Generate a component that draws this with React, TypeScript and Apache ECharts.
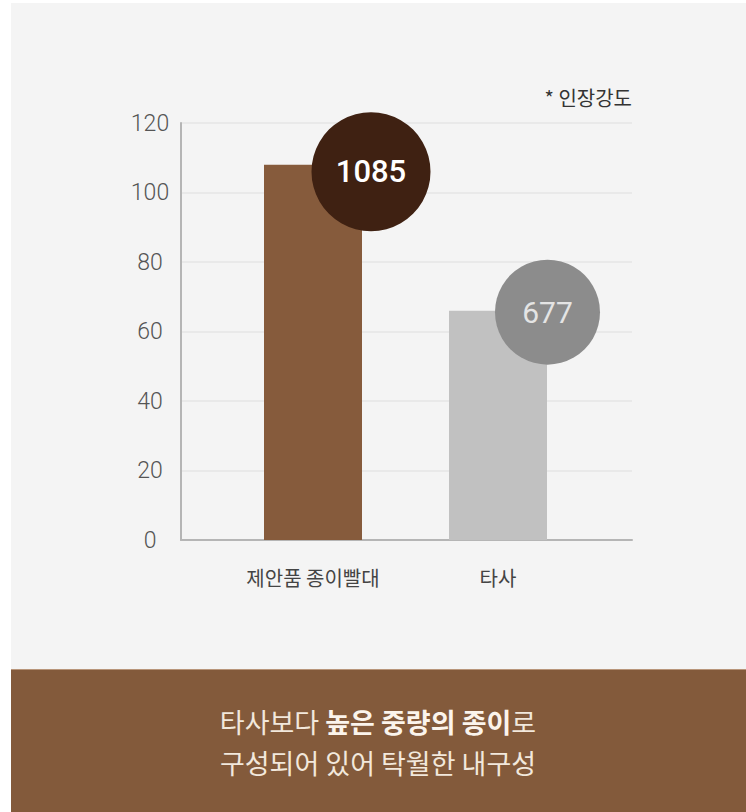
import React, { useEffect, useRef } from "react";
import * as echarts from "echarts";

const categories = ["제안품 종이빨대", "타사"];
const barValues = [108, 66];
const bubbleLabels = ["1085", "677"];
const yTicks = { min: 0, max: 120, interval: 20 };
const unitNote = "* 인장강도";
const bannerLine1 = ["타사보다 ", "높은 중량의 종이", "로"];
const bannerLine2 = "구성되어 있어 탁월한 내구성";

const FONT = "'Noto Sans CJK KR', 'Noto Sans', sans-serif";
const NUMFONT = "Roboto, 'Liberation Sans', sans-serif";

export default function App() {
  const ref = useRef<HTMLDivElement>(null);

  useEffect(() => {
    document.body.style.margin = "0";
    if (!ref.current) return;
    const chart = echarts.init(ref.current, undefined, { renderer: "svg" });

    const option: any = {
      animation: false,
      backgroundColor: "#ffffff",
      textStyle: { fontFamily: FONT },
      graphic: [
        {
          type: "rect",
          z: -10,
          shape: { x: 11, y: 3, width: 735, height: 666 },
          style: { fill: "#f4f4f4" },
        },
        {
          type: "rect",
          z: -10,
          shape: { x: 11, y: 669, width: 735, height: 143 },
          style: { fill: "#835a3b" },
        },
        {
          type: "line",
          z: -9,
          shape: { x1: 11, y1: 669.5, x2: 746, y2: 669.5 },
          style: { stroke: "#b8957a", lineWidth: 1 },
        },
        {
          type: "text",
          x: 632,
          y: 97,
          style: {
            text: unitNote,
            fill: "#333333",
            font: `20px ${FONT}`,
            align: "right",
            verticalAlign: "middle",
          },
        },
        {
          type: "text",
          x: 378,
          y: 741.5,
          style: {
            text:
              `{n|${bannerLine1[0]}}{b|${bannerLine1[1]}}{n|${bannerLine1[2]}}\n{n|${bannerLine2}}`,
            align: "center",
            verticalAlign: "middle",
            rich: {
              n: {
                fontSize: 27,
                fontFamily: FONT,
                fontWeight: 400,
                fill: "#f2e8dc",
                color: "#f2e8dc",
                lineHeight: 41,
              },
              b: {
                fontSize: 27,
                fontFamily: FONT,
                fontWeight: 700,
                fill: "#fbf4ec",
                color: "#fbf4ec",
                lineHeight: 41,
              },
            },
          },
        },
      ],
      grid: [
        { left: 181, right: 114, top: 123, bottom: 272 },
        { left: 220.5, right: 155.5, top: 123, bottom: 272 },
      ],
      xAxis: [
        {
          gridIndex: 0,
          type: "category",
          data: [""],
          axisLine: { show: true, lineStyle: { color: "#b5b5b5", width: 2 } },
          axisTick: { show: false },
          axisLabel: { show: false },
          splitLine: { show: false },
        },
        {
          gridIndex: 1,
          type: "category",
          data: categories,
          axisLine: { show: false },
          axisTick: { show: false },
          axisLabel: {
            margin: 27,
            fontSize: 20,
            color: "#444444",
            fontFamily: FONT,
          },
        },
      ],
      yAxis: [
        {
          gridIndex: 0,
          type: "value",
          min: yTicks.min,
          max: yTicks.max,
          interval: yTicks.interval,
          axisLine: { show: true, lineStyle: { color: "#b5b5b5", width: 2 } },
          axisTick: { show: false },
          axisLabel: {
            margin: 31,
            align: "center",
            fontSize: 23,
            color: "#555555",
            fontFamily: NUMFONT,
            fontWeight: 300,
          },
          splitLine: { show: true, lineStyle: { color: "#e6e6e6", width: 1.5 } },
        },
        {
          gridIndex: 1,
          type: "value",
          min: yTicks.min,
          max: yTicks.max,
          interval: yTicks.interval,
          show: false,
          splitLine: { show: false },
        },
      ],
      series: [
        {
          type: "bar",
          xAxisIndex: 1,
          yAxisIndex: 1,
          barWidth: 98,
          z: 2,
          data: [
            { value: barValues[0], itemStyle: { color: "#865b3c" } },
            { value: barValues[1], itemStyle: { color: "#c1c1c1" } },
          ],
        },
        {
          type: "scatter",
          xAxisIndex: 1,
          yAxisIndex: 1,
          z: 3,
          symbol: "circle",
          symbolSize: 119,
          symbolOffset: [58, 7],
          itemStyle: { color: "#3f2112", opacity: 1 },
          label: {
            show: true,
            position: "inside",
            formatter: () => bubbleLabels[0],
            fontSize: 31,
            fontWeight: 500,
            color: "#ffffff",
            fontFamily: NUMFONT,
          },
          data: [[categories[0], barValues[0]]],
        },
        {
          type: "scatter",
          xAxisIndex: 1,
          yAxisIndex: 1,
          z: 3,
          symbol: "circle",
          symbolSize: 105,
          symbolOffset: [49.5, 1.5],
          itemStyle: { color: "#8c8c8c", opacity: 1 },
          label: {
            show: true,
            position: "inside",
            formatter: () => bubbleLabels[1],
            fontSize: 30,
            fontWeight: 400,
            color: "#e4e4e4",
            fontFamily: NUMFONT,
          },
          data: [[categories[1], barValues[1]]],
        },
      ],
    };

    chart.setOption(option);
    return () => chart.dispose();
  }, []);

  return <div ref={ref} style={{ width: 746, height: 812 }} />;
}
